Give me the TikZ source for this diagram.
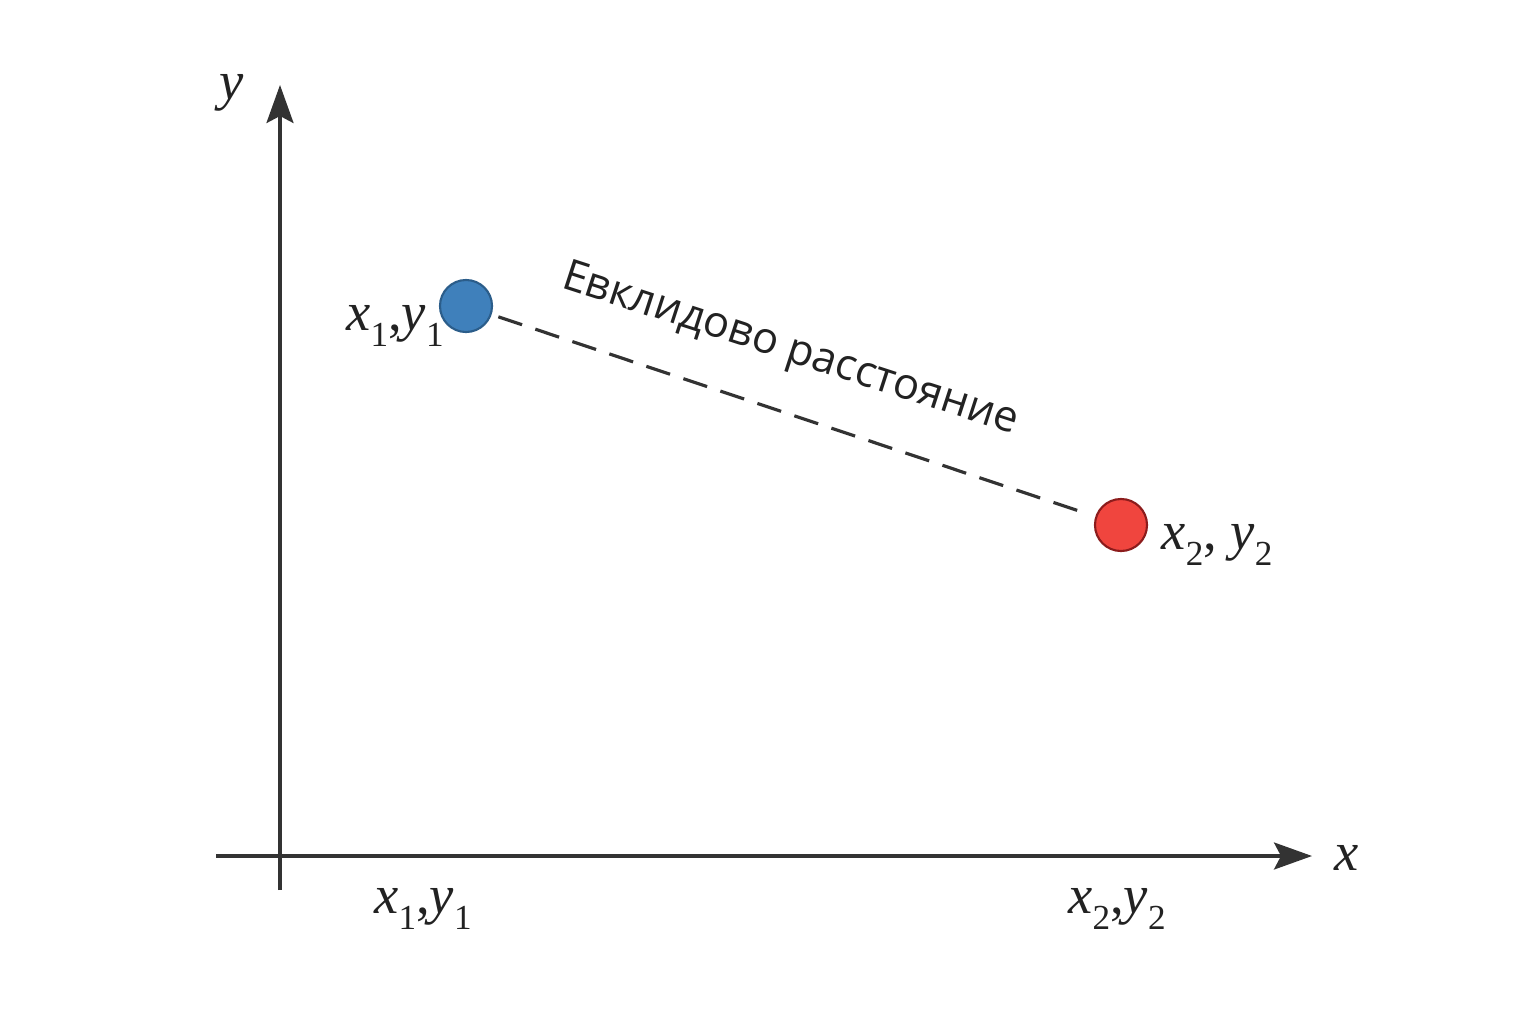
\documentclass[tikz,border=0pt]{standalone}
\usepackage{fontspec}
\setmainfont{Liberation Serif}
\newfontfamily\labfont{Open Sans}
\usetikzlibrary{arrows.meta}
\definecolor{axisgray}{HTML}{333333}
\definecolor{txtgray}{HTML}{222222}
\definecolor{bluefill}{HTML}{3F80BB}
\definecolor{blueedge}{HTML}{2B5D8A}
\definecolor{redfill}{HTML}{F0453E}
\definecolor{rededge}{HTML}{8C1C1C}
\newcommand\sbx[1]{\raisebox{-0.3em}{\fontsize{10}{12}\selectfont #1}}
\newcommand\xy[2]{\textit{x}\sbx{#1},\textit{y}\sbx{#1}}
\newcommand\xys[2]{\textit{x}\sbx{#1}, \textit{y}\sbx{#1}}
\tikzset{
  axisline/.style={draw=axisgray, line width=0.9pt, -{Stealth[length=0.38cm,width=0.27cm,inset=0.07cm]}},
  mlab/.style={text=txtgray, font=\fontsize{15.5}{18}\selectfont, inner sep=0pt},
  dot/.style={circle, minimum size=0.52cm, inner sep=0pt, line width=0.6pt},
}
\begin{document}
\begin{tikzpicture}[x=0.01cm,y=-0.01cm]
\useasboundingbox (0,0) rectangle (1536,1024);
\fill[white] (0,0) rectangle (1536,1024);
\coordinate (ybot) at (280,890);
\coordinate (ytop) at (280,85);
\coordinate (xleft) at (216,856);
\coordinate (xright) at (1312,856);
\draw[axisline] (ybot) -- (ytop);
\draw[axisline] (xleft) -- (xright);
\node[mlab] (ylab) at (232,93) {\textit{y}};
\node[mlab] (xlab) at (1347,858) {\textit{x}};
\node[dot, fill=bluefill, draw=blueedge] (p1) at (466,306) {};
\node[dot, fill=redfill, draw=rededge] (p2) at (1121,525) {};
\draw[axisgray, line width=0.9pt, dash pattern=on 0.25cm off 0.14cm, shorten <=0.07cm, shorten >=0.09cm] (p1) -- (p2);
\node[text=txtgray, font=\labfont\fontsize{12.3}{15}\selectfont, rotate=-18, inner sep=0pt] (dist) at (790,351) {Евклидово расстояние};
\node[mlab] (l1) at (395,326) {\xy{1}{1}};
\node[mlab] (l2) at (1217,545) {\xys{2}{2}};
\node[mlab] (b1) at (423,909) {\xy{1}{1}};
\node[mlab] (b2) at (1117,909) {\xy{2}{2}};
\end{tikzpicture}
\end{document}
